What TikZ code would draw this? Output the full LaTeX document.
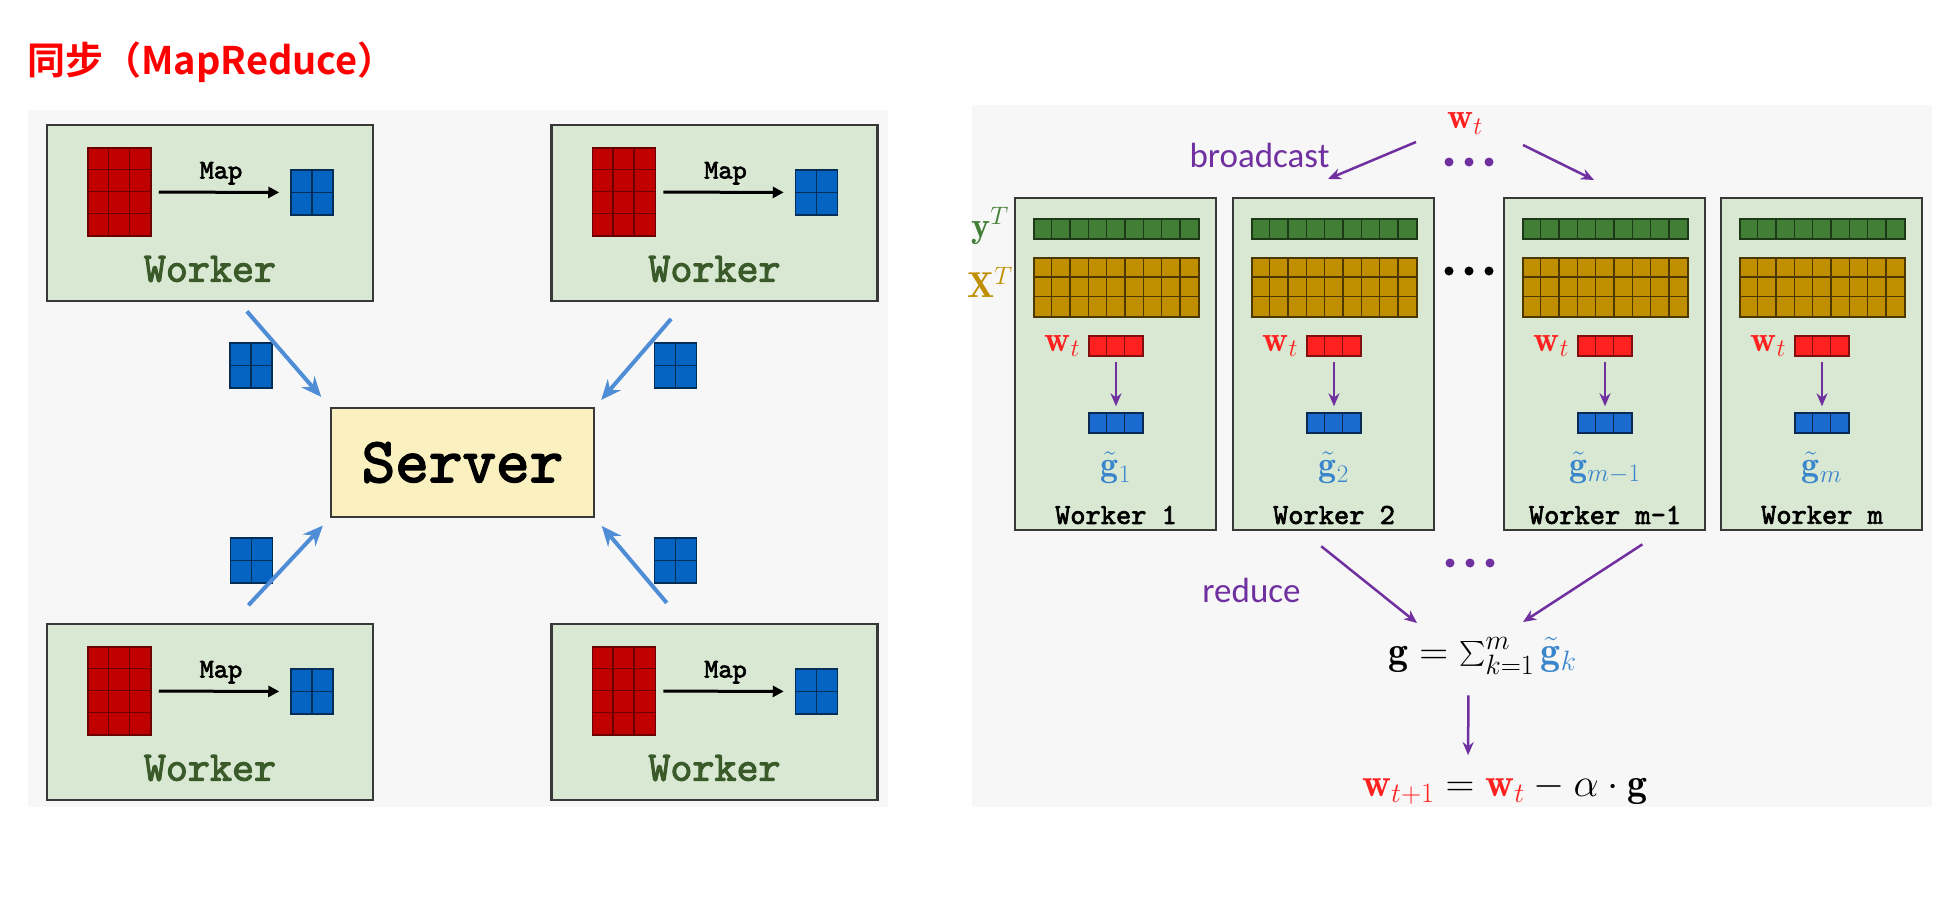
\documentclass[tikz,border=0pt]{standalone}
\usepackage{fix-cm}
\usepackage{amsmath}
\usepackage{fontspec}
\usetikzlibrary{arrows.meta}
\usetikzlibrary{calc}
\usetikzlibrary{positioning}
\newfontfamily\titlefont{Noto Sans CJK SC}[BoldFont={Noto Sans CJK SC Bold}]
\newfontfamily\labelfont{Carlito}
\newfontfamily\codefont{lmmono10-regular.otf}[FakeBold=2.5]
\definecolor{panelgray}{HTML}{F7F7F7}
\definecolor{titlered}{HTML}{FF0000}
\definecolor{workerfill}{HTML}{D9E8D2}
\definecolor{serverfill}{HTML}{FAF0C0}
\definecolor{boxedge}{HTML}{383838}
\definecolor{matred}{HTML}{C00000}
\definecolor{matblue}{HTML}{0563C1}
\definecolor{sendblue}{HTML}{4F8ED6}
\definecolor{workergreen}{HTML}{3A5A2A}
\definecolor{ygreen}{HTML}{437E36}
\definecolor{xgold}{HTML}{C08F00}
\definecolor{wred}{HTML}{FF2020}
\definecolor{gblue}{HTML}{1A6AD0}
\definecolor{glabel}{HTML}{3A86CC}
\definecolor{purp}{HTML}{7030A0}
\tikzset{
	workerstyle/.style={rectangle,draw=boxedge,line width=2.5pt,fill=workerfill,minimum width=326pt,minimum height=176pt},
	serverstyle/.style={rectangle,draw=boxedge,line width=2.5pt,fill=serverfill,minimum width=263pt,minimum height=109pt,font=\codefont\fontsize{64}{64}\selectfont},
	redmatstyle/.style={rectangle,draw=matred!55!black,line width=1.5pt,fill=matred,minimum width=63pt,minimum height=88pt,inner sep=0pt},
	bluesqstyle/.style={rectangle,draw=matblue!45!black,line width=1.5pt,fill=matblue,minimum width=42pt,minimum height=45pt,inner sep=0pt},
	redcell/.style={draw=matred!55!black,line width=1.5pt},
	bluecell/.style={draw=matblue!45!black,line width=1.5pt},
	workertext/.style={text=workergreen,font=\codefont\fontsize{42}{42}\selectfont},
	maplabelstyle/.style={above=3pt,font=\codefont\fontsize{27}{27}\selectfont},
	maparrow/.style={line width=3pt,-{Triangle[length=11pt,width=11pt]},shorten <=7pt,shorten >=11pt},
	sendarrow/.style={draw=sendblue,line width=4pt,-{Stealth[length=20pt,width=17pt]}},
	rworkerstyle/.style={rectangle,draw=boxedge,line width=2.5pt,fill=workerfill,minimum width=201pt,minimum height=332pt},
	ybarstyle/.style={rectangle,draw=ygreen!45!black,line width=1.5pt,fill=ygreen,minimum width=165pt,minimum height=20pt,inner sep=0pt},
	xmatstyle/.style={rectangle,draw=xgold!40!black,line width=1.5pt,fill=xgold,minimum width=165pt,minimum height=59pt,inner sep=0pt},
	wbarstyle/.style={rectangle,draw=wred!50!black,line width=1.5pt,fill=wred,minimum width=54pt,minimum height=20pt,inner sep=0pt},
	gbarstyle/.style={rectangle,draw=gblue!40!black,line width=1.5pt,fill=gblue,minimum width=54pt,minimum height=20pt,inner sep=0pt},
	ycell/.style={draw=ygreen!45!black,line width=1.5pt},
	xcell/.style={draw=xgold!40!black,line width=1.5pt},
	wcell/.style={draw=wred!50!black,line width=1.5pt},
	gcell/.style={draw=gblue!40!black,line width=1.5pt},
	wlabelstyle/.style={text=wred,inner sep=0pt,font=\fontsize{36}{36}\selectfont},
	glabelstyle/.style={text=glabel,inner sep=0pt,font=\fontsize{36}{36}\selectfont},
	rworkertext/.style={inner sep=0pt,font=\codefont\fontsize{29}{29}\selectfont},
	purparrow/.style={draw=purp,line width=2.5pt,-{Stealth[length=13pt,width=11pt]}},
	purplabelstyle/.style={text=purp,inner sep=0pt,font=\labelfont\fontsize{35}{35}\selectfont},
	formulastyle/.style={inner sep=0pt,font=\fontsize{40}{40}\selectfont}
}
\begin{document}
\begin{tikzpicture}[x=1pt,y=-1pt]
	\useasboundingbox (0,0) rectangle (1955,899);
	\node[anchor=west,inner sep=0pt,text=titlered,font=\titlefont\bfseries\fontsize{38}{42}\selectfont] (title) at (27,62) {同步（MapReduce）};
	\fill[panelgray] (28,110) rectangle (888,807);
	\fill[panelgray] (972,105) rectangle (1932,807);
	\node[workerstyle] (wa) at (210,213) {};
	\node[workerstyle] (wb) at (714.5,213) {};
	\node[workerstyle] (wc) at (210,712) {};
	\node[workerstyle] (wd) at (714.5,712) {};
	\node[serverstyle] (srv) at (462.5,462.5) {Server};
	\foreach \p in {a,b,c,d}{
		\node[redmatstyle] (r\p) at ($(w\p)+(-90.5,-21)$) {};
		\node[bluesqstyle] (b\p) at ($(w\p)+(102,-20.5)$) {};
		\node[workertext] (t\p) at ($(w\p)+(0,56)$) {Worker};
		\draw[maparrow] (r\p) -- node[maplabelstyle] (m\p) {Map} (b\p);
		\foreach \i in {1,2} \draw[redcell] ($(r\p.north west)+(21*\i,0)$) -- ($(r\p.south west)+(21*\i,0)$);
		\foreach \j in {1,2,3} \draw[redcell] ($(r\p.north west)+(0,22*\j)$) -- ($(r\p.north east)+(0,22*\j)$);
	}
	\node[bluesqstyle] (sa) at (251,365.5) {};
	\node[bluesqstyle] (sb) at (675.5,365.5) {};
	\node[bluesqstyle] (sc) at (251.5,560.5) {};
	\node[bluesqstyle] (sd) at (675.5,560.5) {};
	\foreach \s in {sa,sb,sc,sd,ba,bb,bc,bd}{
		\draw[bluecell] (\s.north) -- (\s.south);
		\draw[bluecell] (\s.west) -- (\s.east);
	}
	\draw[sendarrow,shorten <=12pt,shorten >=13pt] ([xshift=29]wa.south) -- (srv.north west);
	\draw[sendarrow,shorten <=22pt,shorten >=9pt] ([xshift=-29]wb.south) -- (srv.north east);
	\draw[sendarrow,shorten <=24pt,shorten >=10pt] ([xshift=22]wc.north) -- (srv.south west);
	\draw[sendarrow,shorten <=26pt,shorten >=10pt] ([xshift=-31]wd.north) -- (srv.south east);
	\foreach \x/\i/\nm in {1115.5/1/1,1333.5/2/2,1604.5/3/m-1,1821.5/4/m}{
		\node[rworkerstyle] (v\i) at (\x,364) {};
		\node[ybarstyle] (y\i) at ($(v\i)+(1,-135)$) {};
		\node[xmatstyle] (x\i) at ($(v\i)+(1,-76.5)$) {};
		\node[wbarstyle] (r\i) at ($(v\i)+(0.5,-18)$) {};
		\node[gbarstyle] (g\i) at ($(v\i)+(0.5,59)$) {};
		\node[wlabelstyle,left=8pt of r\i] (l\i) {$\mathbf{w}_t$};
		\node[glabelstyle] (h\i) at ($(v\i)+(0.5,104)$) {$\tilde{\mathbf{g}}_{\nm}$};
		\node[rworkertext] (n\i) at ($(v\i)+(0.5,151)$) {Worker \nm};
		\draw[purparrow,line width=2pt,shorten <=5pt,shorten >=6pt] (r\i) -- (g\i);
		\foreach \k in {1,...,8} \draw[ycell] ($(y\i.north west)+(165/9*\k,0)$) -- ($(y\i.south west)+(165/9*\k,0)$);
		\foreach \k in {1,...,8} \draw[xcell] ($(x\i.north west)+(165/9*\k,0)$) -- ($(x\i.south west)+(165/9*\k,0)$);
		\foreach \k in {1,2} \draw[xcell] ($(x\i.north west)+(0,59/3*\k)$) -- ($(x\i.north east)+(0,59/3*\k)$);
		\foreach \k in {1,2} \draw[wcell] ($(r\i.north west)+(18*\k,0)$) -- ($(r\i.south west)+(18*\k,0)$);
		\foreach \k in {1,2} \draw[gcell] ($(g\i.north west)+(18*\k,0)$) -- ($(g\i.south west)+(18*\k,0)$);
	}
	\node[inner sep=0pt,text=ygreen,font=\fontsize{36}{36}\selectfont] (yl) at (990,226) {$\mathbf{y}^T$};
	\node[inner sep=0pt,text=xgold,font=\fontsize{36}{36}\selectfont] (xl) at (990,282) {$\mathbf{X}^T$};
	\node[wlabelstyle] (wtop) at (1465,123.5) {$\mathbf{w}_t$};
	\coordinate (bs1) at (1416,142);
	\coordinate (be1) at (1328,179);
	\coordinate (bs2) at (1523,145);
	\coordinate (be2) at (1594,180);
	\draw[purparrow] (bs1) -- (be1);
	\draw[purparrow] (bs2) -- (be2);
	\node[purplabelstyle] (bcast) at (1259.5,155) {broadcast};
	\node[purplabelstyle] (rdc) at (1251.5,590) {reduce};
	\foreach \d in {0,1,2}{
		\fill[purp] (1449+20*\d,162) circle[radius=4.5pt];
		\fill[black] (1449+20*\d,271) circle[radius=4.5pt];
		\fill[purp] (1450+20*\d,563) circle[radius=4.5pt];
	}
	\node[formulastyle] (gsum) at (1482.5,655.5) {$\mathbf{g}=\sum_{k=1}^{m}\textcolor{glabel}{\tilde{\mathbf{g}}_k}$};
	\node[formulastyle] (wnew) at (1505,789) {$\textcolor{wred}{\mathbf{w}_{t+1}}=\textcolor{wred}{\mathbf{w}_t}-\alpha\cdot\mathbf{g}$};
	\coordinate (re1) at (1417,623);
	\coordinate (re2) at (1523,622);
	\draw[purparrow,shorten <=24pt] ([xshift=-31]v2.south) -- (re1);
	\draw[purparrow,shorten <=24pt] ([xshift=58]v3.south) -- (re2);
	\draw[purparrow,shorten <=21pt,shorten >=18pt] ([xshift=-14]gsum.south) -- ([xshift=-37]wnew.north);
\end{tikzpicture}
\end{document}
